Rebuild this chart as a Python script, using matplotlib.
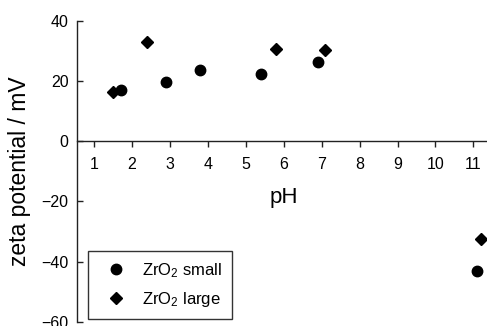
import numpy as np
import matplotlib
matplotlib.use("Agg")
import matplotlib.pyplot as plt

plt.rcParams['font.family'] = ['Liberation Sans', 'DejaVu Sans']
plt.rcParams['mathtext.fontset'] = 'custom'
plt.rcParams['mathtext.rm'] = 'Liberation Sans'
plt.rcParams['mathtext.it'] = 'Liberation Sans'

# zeta potential vs pH
ph_small = np.array([1.7, 2.9, 3.8, 5.4, 6.9, 11.1])
zeta_small = np.array([17.0, 19.7, 23.8, 22.5, 26.2, -43.0])
ph_large = np.array([1.5, 2.4, 5.8, 7.1, 11.2])
zeta_large = np.array([16.5, 33.0, 30.7, 30.2, -32.5])

xticks = np.arange(1, 12)
yticks = [-60, -40, -20, 0, 20, 40]

fig = plt.figure(figsize=(4.87, 3.26), dpi=100)
ax = fig.add_axes([0.158, 0.0132, 0.842, 0.9224])

ax.plot(ph_small, zeta_small, 'o', color='black', markersize=7.5,
        label=r'ZrO$_2$ small', clip_on=False)
ax.plot(ph_large, zeta_large, 'D', color='black', markersize=6.5,
        label=r'ZrO$_2$ large', clip_on=False)

ax.set_xlim(0.545, 11.36)
ax.set_ylim(-60, 40)
ax.set_xticks(xticks)
ax.set_yticks(yticks)

# axis at zero, no box
ax.spines['top'].set_visible(False)
ax.spines['right'].set_visible(False)
ax.spines['bottom'].set_position(('data', 0))
for s in ['left', 'bottom']:
    ax.spines[s].set_linewidth(1.0)
    ax.spines[s].set_color('#222222')

ax.tick_params(axis='x', direction='out', length=4, width=1, pad=7,
               labelsize=11.5, colors='#222222', labelcolor='black')
ax.tick_params(axis='y', direction='in', length=4, width=1, pad=6,
               labelsize=11.5, colors='#222222', labelcolor='black')

ax.text(6, -18.7, 'pH', ha='center', va='center', fontsize=16)
fig.text(0.041, 0.475, 'zeta potential / mV', rotation=90,
         ha='center', va='center', fontsize=16.5)

leg = ax.legend(loc='lower left', bbox_to_anchor=(0.1807, 0.0215),
                bbox_transform=fig.transFigure, frameon=True, fancybox=False,
                fontsize=12, handletextpad=0.5, borderpad=0.6,
                labelspacing=0.6, handlelength=2.15, borderaxespad=0)
leg.get_frame().set_edgecolor('black')
leg.get_frame().set_linewidth(1.0)

fig.savefig('out.png', dpi=100)
